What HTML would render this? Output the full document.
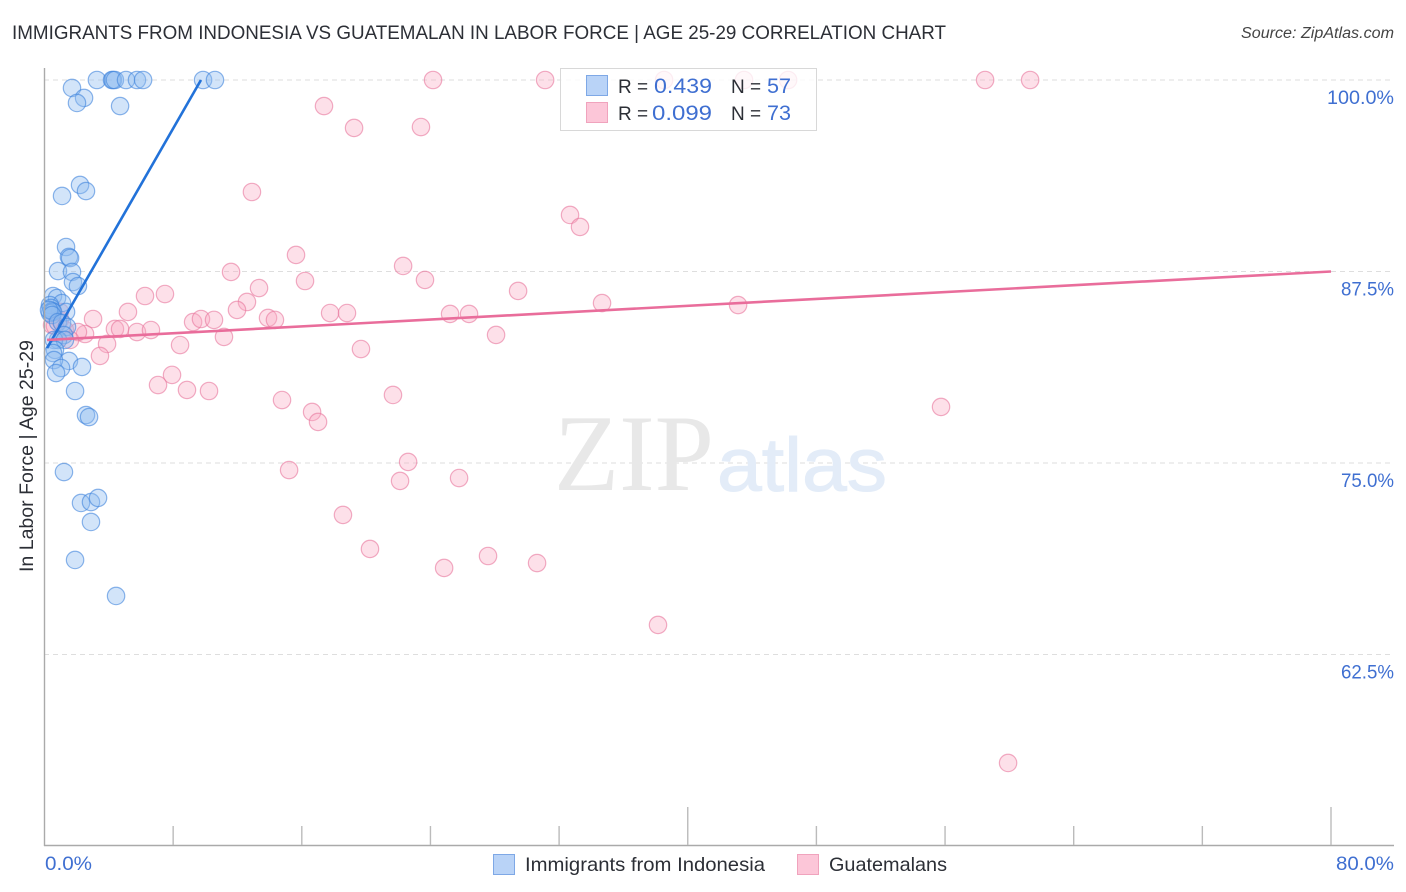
<!DOCTYPE html>
<html lang="en">
<head>
<meta charset="utf-8">
<title>Immigrants from Indonesia vs Guatemalan in Labor Force | Age 25-29 Correlation Chart</title>
<style>
html,body{margin:0;padding:0;background:#fff;}
svg{display:block;font-family:"Liberation Sans",Arial,sans-serif;}
</style>
</head>
<body>
<svg id="chart" xmlns="http://www.w3.org/2000/svg" width="1406" height="892" viewBox="0 0 1406 892">
  <rect width="1406" height="892" fill="#ffffff"/>
  <text x="12" y="39" font-size="19.5" fill="#2c2f36" textLength="934" lengthAdjust="spacingAndGlyphs">IMMIGRANTS FROM INDONESIA VS GUATEMALAN IN LABOR FORCE | AGE 25-29 CORRELATION CHART</text>
  <text x="1241" y="38" font-size="15.5" font-style="italic" fill="#444" textLength="153" lengthAdjust="spacingAndGlyphs">Source: ZipAtlas.com</text>
  <g id="grid"></g>
  <g>
    <text x="554" y="490" font-family="'Liberation Serif',serif" font-size="109" fill="#e8e8e8" textLength="160" lengthAdjust="spacingAndGlyphs">ZIP</text>
    <text x="717" y="491" font-size="76" fill="#e3ecf8" stroke="#e3ecf8" stroke-width="1" textLength="170" lengthAdjust="spacingAndGlyphs">atlas</text>
  </g>
  <g id="points-pink"></g>
  <g id="points-blue"></g>
  <g id="trends"></g>
  <g id="axes"></g>
  <g id="ylabels"></g>
  <text transform="translate(33,456) rotate(-90)" font-size="19" fill="#2c2f36" text-anchor="middle" textLength="232" lengthAdjust="spacingAndGlyphs">In Labor Force | Age 25-29</text>
  <text x="45" y="870" font-size="19.5" fill="#3f6fd1" textLength="47" lengthAdjust="spacingAndGlyphs">0.0%</text>
  <text x="1336" y="870" font-size="19.5" fill="#3f6fd1" textLength="58" lengthAdjust="spacingAndGlyphs">80.0%</text>

  <g>
    <rect x="560.5" y="68.5" width="256" height="62" fill="#ffffff" fill-opacity="0.78" stroke="#d8d8d8"/>
    <rect x="586.5" y="75.5" width="21" height="20" fill="#b9d3f7" stroke="#7ea8e6"/>
    <rect x="586.5" y="102.5" width="21" height="20" fill="#fcc6d8" stroke="#f0a3bd"/>
    <text x="618" y="93" font-size="19" fill="#2c2f36">R =</text>
    <text x="654" y="93" font-size="21.5" fill="#3f6fd1" textLength="58" lengthAdjust="spacingAndGlyphs">0.439</text>
    <text x="731" y="93" font-size="19" fill="#2c2f36">N =</text>
    <text x="767" y="93" font-size="21.5" fill="#3f6fd1" textLength="24" lengthAdjust="spacingAndGlyphs">57</text>
    <text x="618" y="120" font-size="19" fill="#2c2f36">R =</text>
    <text x="652" y="120" font-size="21.5" fill="#3f6fd1" textLength="60" lengthAdjust="spacingAndGlyphs">0.099</text>
    <text x="731" y="120" font-size="19" fill="#2c2f36">N =</text>
    <text x="767" y="120" font-size="21.5" fill="#3f6fd1" textLength="24" lengthAdjust="spacingAndGlyphs">73</text>
  </g>

  <g>
    <rect x="493.5" y="854.5" width="21" height="20" fill="#b9d3f7" stroke="#7ea8e6"/>
    <text x="525" y="871" font-size="19.5" fill="#2c2f36" textLength="240" lengthAdjust="spacingAndGlyphs">Immigrants from Indonesia</text>
    <rect x="797.5" y="854.5" width="21" height="20" fill="#fcc6d8" stroke="#f0a3bd"/>
    <text x="829" y="871" font-size="19.5" fill="#2c2f36" textLength="118" lengthAdjust="spacingAndGlyphs">Guatemalans</text>
  </g>
</svg>
<script>
// Series values: x = share (%), y = in labor force (%)
var blueX = [3.26,4.20,4.26,4.38,5.07,5.75,6.13,9.86,10.60,1.71,2.46,2.02,4.70,2.21,2.58,1.09,1.34,1.52,1.59,0.84,1.71,1.77,2.08,0.53,0.78,1.09,1.34,0.34,0.40,0.47,0.34,0.53,0.28,0.47,0.84,1.09,1.40,1.21,0.84,0.59,1.27,0.65,0.53,1.52,0.59,1.03,2.33,0.72,1.90,2.58,2.77,1.21,2.27,2.89,3.33,2.89,1.90,4.45];
var blueY = [100,100,100,100,100,100,100,100,100,99.48,98.83,98.50,98.30,93.15,92.75,92.43,89.10,88.45,88.38,87.53,87.47,86.81,86.55,85.90,85.77,85.44,84.86,85.31,85.12,84.92,84.79,84.86,84.99,84.66,84.20,84.14,83.88,83.35,83.03,83.03,83.03,82.38,82.18,81.66,81.72,81.20,81.27,80.87,79.70,78.13,78.00,74.41,72.39,72.45,72.72,71.15,68.67,66.32];
var pinkX = [24.16,31.13,38.53,43.50,46.24,58.49,61.29,17.38,19.25,23.41,12.90,32.68,33.30,15.64,22.30,11.60,23.66,16.20,29.45,13.34,6.25,7.49,34.67,12.59,11.97,43.13,5.19,17.76,18.81,25.22,26.40,13.90,14.33,9.24,9.73,10.54,3.02,4.38,4.70,5.75,6.62,11.16,2.52,28.08,8.43,3.89,19.68,3.45,7.93,7.06,8.86,10.23,21.67,14.77,16.64,17.01,55.75,15.21,22.61,22.11,25.78,18.56,20.24,27.58,30.63,24.85,38.15,59.92,0.47,0.96,1.27,2.08,1.59,0.65,0.96];
var pinkY = [100,100,100,100,100,100,100,98.30,96.87,96.93,92.69,91.19,90.41,88.58,87.86,87.47,86.95,86.88,86.23,86.42,85.90,86.03,85.44,85.51,84.99,85.31,84.86,84.79,84.79,84.73,84.73,84.47,84.34,84.20,84.40,84.34,84.40,83.75,83.75,83.55,83.68,83.23,83.42,83.36,82.70,82.77,82.44,81.99,80.75,80.09,79.77,79.70,79.44,79.11,78.33,77.68,78.66,74.54,75.07,73.83,74.02,71.61,69.39,68.93,68.47,68.15,64.43,55.42,84.01,84.34,83.68,83.55,83.03,83.94,84.86];
var blueTrendX = [0.16,9.73];
var blueTrendY = [82.5,100];
var pinkTrendX = [0.16,80];
var pinkTrendY = [83.03,87.5];
var yTicks = [100,87.5,75,62.5];
var yTickLabels = ["100.0%","87.5%","75.0%","62.5%"];
var xTicks = [8,16,24,32,40,48,56,64,72,80];
var majorXTicks = [40,80];

var NS = "http://www.w3.org/2000/svg";
function xScale(v){ return 44.5 + v * (1331 - 44.5) / 80; }
function yScale(v){ return 80 + (100 - v) * (463 - 80) / 25; }
function make(tag, attrs, parent){
  var el = document.createElementNS(NS, tag);
  for (var k in attrs) el.setAttribute(k, attrs[k]);
  parent.appendChild(el);
  return el;
}

var gridG = document.getElementById("grid");
yTicks.forEach(function(t){
  var el = make("line", {x1:44, x2:1394, y1:yScale(t), y2:yScale(t), stroke:"#dedede", "stroke-width":1, "stroke-dasharray":"5 4"}, gridG);
  
  
});

function drawPoints(gid, xs, ys, fill, fillOpacity, stroke, name){
  var g = document.getElementById(gid);
  xs.forEach(function(x, i){
    var c = make("circle", {cx:xScale(x), cy:yScale(ys[i]), r:8.7, fill:fill, "fill-opacity":fillOpacity, stroke:stroke, "stroke-opacity":0.6, "stroke-width":1.2}, g);
    
    
  });
}
drawPoints("points-pink", pinkX, pinkY, "#f9a8c2", 0.36, "#e8779c", "guatemalans-point");
drawPoints("points-blue", blueX, blueY, "#8fbcf0", 0.4, "#3f83dc", "indonesia-point");

var trendG = document.getElementById("trends");
var blueLine = make("line", {x1:xScale(blueTrendX[0]), y1:yScale(blueTrendY[0]), x2:xScale(blueTrendX[1]), y2:yScale(blueTrendY[1]), stroke:"#2272d9", "stroke-width":2.6}, trendG);


var pinkLine = make("line", {x1:xScale(pinkTrendX[0]), y1:yScale(pinkTrendY[0]), x2:xScale(pinkTrendX[1]), y2:yScale(pinkTrendY[1]), stroke:"#e96d9b", "stroke-width":2.6}, trendG);



var axesG = document.getElementById("axes");
var yAxis = make("line", {x1:44.5, x2:44.5, y1:68, y2:846, stroke:"#aaaaaa", "stroke-width":1.4}, axesG);


var xAxis = make("line", {x1:44, x2:1394, y1:845.5, y2:845.5, stroke:"#aaaaaa", "stroke-width":1.4}, axesG);


xTicks.forEach(function(t){
  var top = majorXTicks.indexOf(t) >= 0 ? 807 : 826;
  var tick = make("line", {x1:xScale(t), x2:xScale(t), y1:top, y2:845, stroke:"#bbbbbb", "stroke-width":1.4}, axesG);
  
  
});

var ylabG = document.getElementById("ylabels");
yTicks.forEach(function(t, i){
  var chars = yTickLabels[i].length;
  var width = chars > 5 ? 67 : 53;
  var lab = make("text", {x:1394 - width, y:yScale(t) + 24, "font-size":19.5, fill:"#3f6fd1", textLength:width, lengthAdjust:"spacingAndGlyphs"}, ylabG);
  
  
  lab.textContent = yTickLabels[i];
});
</script>
</body>
</html>
